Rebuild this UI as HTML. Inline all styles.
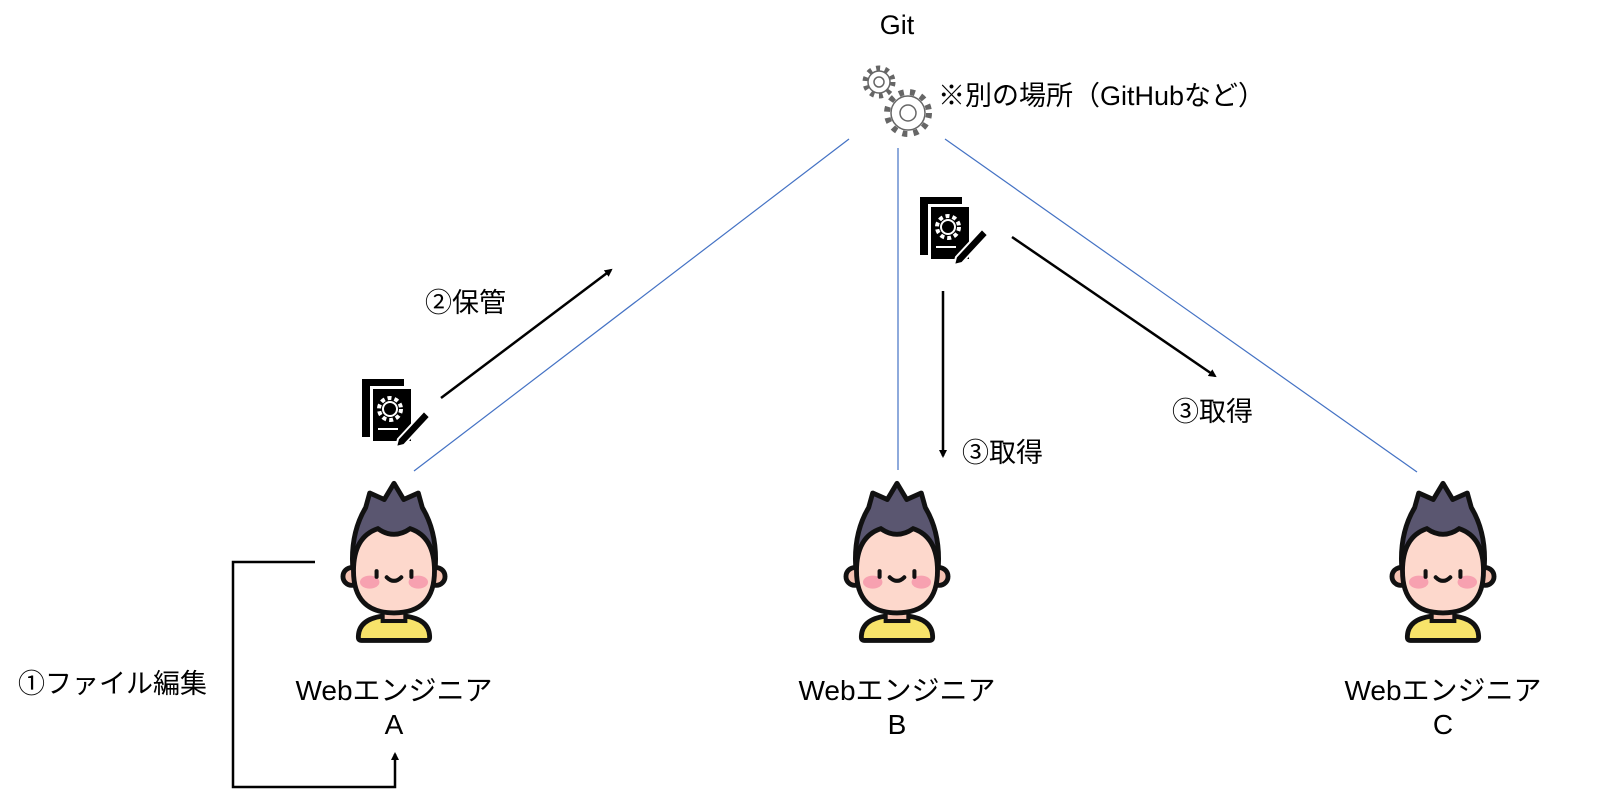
<!DOCTYPE html>
<html><head><meta charset="utf-8"><style>
body{margin:0;background:#fff;width:1597px;height:805px;overflow:hidden}
text{font-family:"Liberation Sans","Noto Sans CJK JP",sans-serif;fill:#000}
</style></head><body>
<svg width="1597" height="805" viewBox="0 0 1597 805">
<defs>
<marker id="ah" markerWidth="8" markerHeight="8" refX="6" refY="4" orient="auto" markerUnits="userSpaceOnUse"><path d="M0,0 L8,4 L0,8 z" fill="#000"/></marker>
<g id="person">
 <path d="M-50,45 Q-56,-5 -35,-40 L-30,-58 L-12,-50 L0,-70 L12,-50 L30,-58 L35,-40 Q56,-5 50,45 Z" fill="#5a5670" stroke="#111" stroke-width="6" stroke-linejoin="round"/>
 <path d="M-44,120 Q-44,98 -14,94 L14,94 Q44,98 44,120 Q44,124 40,124 L-40,124 Q-44,124 -44,120Z" fill="#f7e36a" stroke="#111" stroke-width="6"/>
 <rect x="-14" y="80" width="28" height="20" fill="#f6c3b3" stroke="#111" stroke-width="5"/>
 <circle cx="-52" cy="45" r="11" fill="#f6c3b3" stroke="#111" stroke-width="6"/>
 <circle cx="52" cy="45" r="11" fill="#f6c3b3" stroke="#111" stroke-width="6"/>
 <path d="M-50,38 Q-50,-4 -20,-14 Q0,0 20,-14 Q50,-4 50,38 Q50,90 0,90 Q-50,90 -50,38Z" fill="#fdd8cc" stroke="#111" stroke-width="6"/>
 <ellipse cx="-30" cy="52" rx="12" ry="8" fill="#f7a1b0"/>
 <ellipse cx="30" cy="52" rx="12" ry="8" fill="#f7a1b0"/>
 <rect x="-24" y="36" width="5" height="12" rx="2.5" fill="#111"/>
 <rect x="19" y="36" width="5" height="12" rx="2.5" fill="#111"/>
 <path d="M-9,46 Q0,55 9,46" fill="none" stroke="#111" stroke-width="5" stroke-linecap="round"/>
</g>
<g id="doc">
 <rect x="0" y="0" width="42" height="58" fill="#000"/>
 <rect x="8" y="7" width="44" height="58" fill="#fff"/>
 <rect x="11" y="10" width="38" height="52" fill="#000"/>
 <circle cx="28" cy="30" r="11" fill="none" stroke="#fff" stroke-width="4" stroke-dasharray="4 3"/>
 <circle cx="28" cy="30" r="7" fill="none" stroke="#fff" stroke-width="2"/>
 <path d="M16,50 L36,50" stroke="#fff" stroke-width="2"/>
 <path d="M36,60 L62,32 L68,38 L42,66 L34,68 Z" fill="#000" stroke="#fff" stroke-width="2"/>
</g>
</defs>
<g fill="none" stroke="#4472c4" stroke-width="1.2">
 <line x1="849" y1="139" x2="414" y2="471"/>
 <line x1="898" y1="148" x2="898" y2="470"/>
 <line x1="945" y1="139" x2="1417" y2="472"/>
</g>
<g fill="none" stroke="#666">
 <circle cx="879" cy="82" r="14" stroke-width="5" stroke-dasharray="4 5"/>
 <circle cx="879" cy="82" r="11" stroke-width="1.5" fill="#fff"/>
 <circle cx="879" cy="82" r="5" stroke-width="1.5"/>
 <circle cx="908" cy="113" r="21" stroke-width="6" stroke-dasharray="5 6.2"/>
 <circle cx="908" cy="113" r="17" stroke-width="1.5" fill="#fff"/>
 <circle cx="908" cy="113" r="8" stroke-width="1.5"/>
</g>
<use href="#doc" x="362" y="379"/>
<use href="#doc" x="920" y="197"/>
<g stroke="#000" stroke-width="2.5" fill="none">
 <line x1="441" y1="398" x2="611" y2="270" marker-end="url(#ah)"/>
 <line x1="943" y1="291" x2="943" y2="456" marker-end="url(#ah)"/>
 <line x1="1012" y1="237" x2="1215" y2="376" marker-end="url(#ah)"/>
 <polyline points="315,562 233,562 233,787 395,787 395,754" marker-end="url(#ah)"/>
</g>
<use href="#person" transform="translate(394,540) scale(0.81)"/>
<use href="#person" transform="translate(897,540) scale(0.81)"/>
<use href="#person" transform="translate(1443,540) scale(0.81)"/>
<g font-size="27">
<text x="897" y="34" text-anchor="middle">Git</text>
<text x="938" y="105">※別の場所（GitHubなど）</text>
<text x="425" y="312">②保管</text>
<text x="962" y="462">③取得</text>
<text x="1172" y="421">③取得</text>
<text x="18" y="693">①ファイル編集</text>
</g>
<g font-size="28" text-anchor="middle">
<text x="394" y="700">Webエンジニア</text><text x="394" y="734">A</text>
<text x="897" y="700">Webエンジニア</text><text x="897" y="734">B</text>
<text x="1443" y="700">Webエンジニア</text><text x="1443" y="734">C</text>
</g>
</svg>
</body></html>
